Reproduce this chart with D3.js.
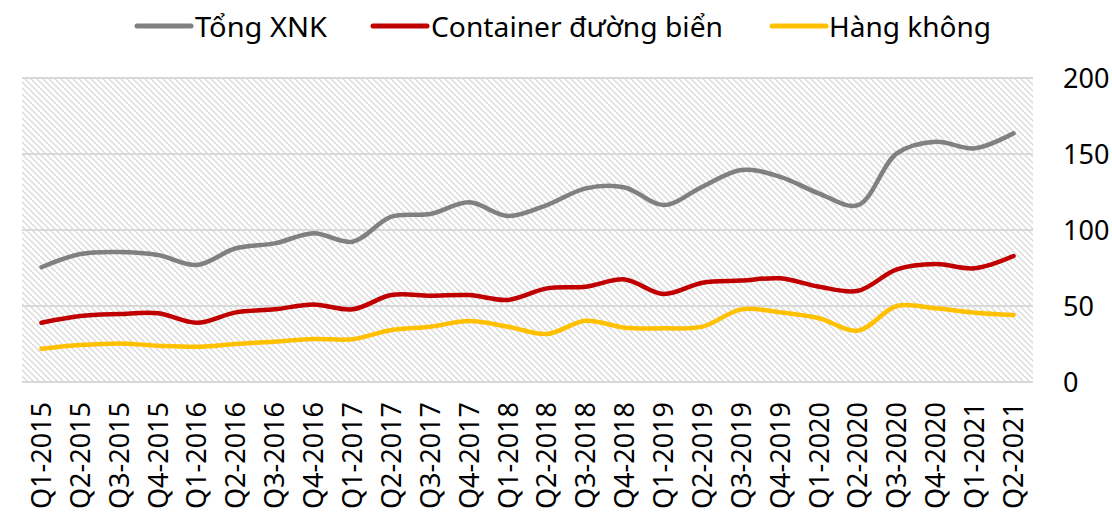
<!DOCTYPE html>
<html>
<head>
<meta charset="utf-8">
<script src="https://cdn.jsdelivr.net/npm/d3@7"></script>
<style>
  html, body { margin: 0; padding: 0; background: #fff; }
  svg { display: block; }
  text { font-family: "Noto Sans", "Open Sans", sans-serif; fill: #000; }
</style>
</head>
<body>
<svg id="chart" width="1112" height="516"></svg>
<script>
const categories = ["Q1-2015","Q2-2015","Q3-2015","Q4-2015","Q1-2016","Q2-2016","Q3-2016","Q4-2016",
  "Q1-2017","Q2-2017","Q3-2017","Q4-2017","Q1-2018","Q2-2018","Q3-2018","Q4-2018",
  "Q1-2019","Q2-2019","Q3-2019","Q4-2019","Q1-2020","Q2-2020","Q3-2020","Q4-2020","Q1-2021","Q2-2021"];
const tongXNK = [75.5,84.2,85.5,83.5,77,88,91.2,97.8,92.3,108.8,110.5,118.2,109.2,116.4,127.4,128,
  116.4,128.5,139.5,135,124,116.4,150.4,158,153.7,163.6];
const containerBien = [39,43.4,44.7,45.2,39,45.8,47.8,51,47.8,57.2,56.8,57.2,54,61.6,62.7,67.5,
  57.9,65.3,66.7,68.2,62.7,60,74.1,77.6,74.8,82.9];
const hangKhong = [21.9,24.3,25.4,23.9,23.2,25,26.5,28.3,28.1,34.2,36.4,40.1,36.4,31.6,40.3,35.7,
  35.3,36.4,47.8,45.8,41.9,33.8,50,48.5,45.6,44.1];
const seriesNames = ["Tổng XNK","Container đường biển","Hàng không"];
const seriesColors = ["#808080","#C00000","#FFC000"];
const yTicks = [0,50,100,150,200];

const svg = d3.select("#chart");
const pLeft = 22, pRight = 1033, pTop = 78, pBottom = 382;

const defs = svg.append("defs");
const pat = defs.append("pattern").attr("id","hatch").attr("patternUnits","userSpaceOnUse")
  .attr("width",6).attr("height",6);
pat.append("rect").attr("width",6).attr("height",6).attr("fill","#fff");
pat.append("path").attr("d","M-1,-1 L7,7 M-1,5 L1,7 M5,-1 L7,1")
  .attr("stroke","#dadada").attr("stroke-width",1.4).attr("fill","none");

const x = d3.scaleBand().domain(categories).range([pLeft, pRight]).padding(0);
const y = d3.scaleLinear().domain([0,200]).range([pBottom, pTop]);

svg.append("rect").attr("x",pLeft).attr("y",pTop).attr("width",pRight-pLeft).attr("height",pBottom-pTop)
  .attr("fill","url(#hatch)");

// gridlines
svg.append("g").selectAll("line").data(yTicks).join("line")
  .attr("x1",pLeft).attr("x2",pRight)
  .attr("y1",d=>y(d)).attr("y2",d=>y(d))
  .attr("stroke","#d9d9d9").attr("stroke-width",2);

// right axis labels
const yAxis = d3.axisRight(y).tickValues(yTicks).tickSize(0).tickPadding(0);
const ya = svg.append("g").attr("transform",`translate(1063,0)`).call(yAxis);
ya.select(".domain").remove();
ya.selectAll("text").attr("font-size",27).attr("font-family","'Noto Sans', sans-serif")
  .attr("fill","#000").attr("text-anchor","start").attr("dy","0.35em");

// x axis labels
const xAxis = d3.axisBottom(x).tickSize(0).tickPadding(0);
const xa = svg.append("g").attr("transform",`translate(0,${pBottom})`).call(xAxis);
xa.select(".domain").remove();
xa.selectAll("text").attr("font-size",27).attr("font-family","'Noto Sans', sans-serif")
  .attr("fill","#000")
  .attr("transform","rotate(-90)")
  .attr("text-anchor","end")
  .attr("x",-20).attr("y",0).attr("dy","0.35em");

// lines
const allSeries = [tongXNK, containerBien, hangKhong];
const line = d3.line()
  .x((d,i)=>x(categories[i]) + x.bandwidth()/2)
  .y(d=>y(d))
  .curve(d3.curveCatmullRom.alpha(0.5));
svg.append("g").selectAll("path").data(allSeries).join("path")
  .attr("d",d=>line(d))
  .attr("fill","none")
  .attr("stroke",(d,i)=>seriesColors[i])
  .attr("stroke-width",4.5)
  .attr("stroke-linecap","round")
  .attr("stroke-linejoin","round");

// legend
const legendPos = [{lx:137, tx:195, tw:132},{lx:373, tx:431, tw:292},{lx:772, tx:829, tw:162}];
const lg = svg.append("g");
legendPos.forEach((p,i)=>{
  lg.append("line").attr("x1",p.lx).attr("x2",p.lx+54).attr("y1",26).attr("y2",26)
    .attr("stroke",seriesColors[i]).attr("stroke-width",5).attr("stroke-linecap","round");
  lg.append("text").attr("x",p.tx).attr("y",37).attr("font-size",28)
    .attr("textLength",p.tw).attr("lengthAdjust","spacingAndGlyphs")
    .text(seriesNames[i]);
});
</script>
</body>
</html>
